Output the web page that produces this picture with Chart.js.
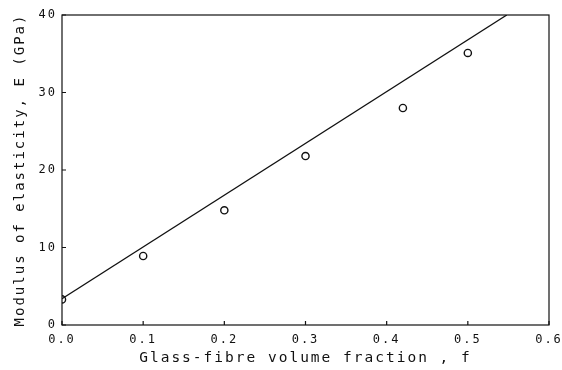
<!DOCTYPE html>
<html>
<head>
<meta charset="utf-8">
<script src="https://cdn.jsdelivr.net/npm/chart.js@4.4.0/dist/chart.umd.min.js"></script>
<style>
  html, body { margin: 0; padding: 0; background: #fff; }
  #wrap { width: 562px; height: 370px; }
</style>
</head>
<body>
<div id="wrap"><canvas id="modulusChart"></canvas></div>
<script>
// measured points: fibre volume fraction vs modulus (GPa)
const fraction = [0.0, 0.1, 0.2, 0.3, 0.42, 0.5];
const modulus = [3.3, 8.9, 14.8, 21.8, 28.0, 35.1];

// fitted straight line, end points
const fitFraction = [0.0, 0.548];
const fitModulus = [3.4, 40];

const xTicks = [0, 0.1, 0.2, 0.3, 0.4, 0.5, 0.6];
const yTicks = [0, 10, 20, 30, 40];

const ink = '#111';
const ctxModulus = document.getElementById('modulusChart');

// wide plotter-style lettering
const spacing = {
    id: 'spacing',
    beforeUpdate(chart) { chart.ctx.letterSpacing = '2px'; },
    beforeDraw(chart) { chart.ctx.letterSpacing = '2px'; }
};

// closed frame with short inward ticks
const frame = {
    id: 'frame',
    afterDatasetsDraw(chart) {
        const { ctx, chartArea: a, scales } = chart;
        ctx.save();
        ctx.strokeStyle = ink;
        ctx.lineWidth = 1.2;
        ctx.strokeRect(a.left, a.top, a.right - a.left, a.bottom - a.top);
        ctx.beginPath();
        xTicks.forEach(v => {
            const px = scales.x.getPixelForValue(v);
            ctx.moveTo(px, a.bottom);
            ctx.lineTo(px, a.bottom - 4);
        });
        yTicks.forEach(v => {
            const py = scales.y.getPixelForValue(v);
            ctx.moveTo(a.left, py);
            ctx.lineTo(a.left + 4, py);
        });
        ctx.stroke();
        ctx.restore();
    }
};

const dataModulus = {
    datasets: [{
        type: 'scatter',
        label: 'Measured',
        data: fraction.map((f, i) => ({ x: f, y: modulus[i] })),
        pointStyle: 'circle',
        pointRadius: 3.6,
        pointBorderWidth: 1.4,
        borderColor: ink,
        backgroundColor: 'rgba(255,255,255,0)'
    }, {
        type: 'line',
        label: 'Fit',
        data: fitFraction.map((f, i) => ({ x: f, y: fitModulus[i] })),
        borderColor: ink,
        borderWidth: 1.3,
        pointRadius: 0,
        fill: false
    }]
};

const configModulus = {
    data: dataModulus,
    plugins: [spacing, frame],
    options: {
        responsive: true,
        maintainAspectRatio: false,
        animation: false,
        layout: { padding: { top: 15, right: 13, left: 0, bottom: 0 } },
        plugins: {
            legend: { display: false },
            tooltip: { enabled: false }
        },
        scales: {
            x: {
                type: 'linear',
                min: 0,
                max: 0.6,
                afterBuildTicks: s => { s.ticks = xTicks.map(v => ({ value: v })); },
                grid: { display: false, drawTicks: false },
                border: { display: false },
                ticks: {
                    color: ink,
                    padding: 8,
                    maxRotation: 0,
                    font: { family: 'DejaVu Sans Mono', size: 12 },
                    callback: v => v.toFixed(1)
                },
                title: {
                    display: true,
                    text: 'Glass-fibre volume fraction , f',
                    color: ink,
                    padding: { top: 0, bottom: 3 },
                    font: { family: 'DejaVu Sans Mono', size: 14.5 }
                },
                afterFit: s => { s.height = 45; s.paddingRight = 0; s.paddingLeft = 0; }
            },
            y: {
                min: 0,
                max: 40,
                afterBuildTicks: s => { s.ticks = yTicks.map(v => ({ value: v })); },
                grid: { display: false, drawTicks: false },
                border: { display: false },
                ticks: {
                    color: ink,
                    padding: 5,
                    font: { family: 'DejaVu Sans Mono', size: 12 }
                },
                title: {
                    display: true,
                    text: 'Modulus of elasticity, E (GPa)',
                    color: ink,
                    padding: { top: 12, bottom: 4 },
                    font: { family: 'DejaVu Sans Mono', size: 14 }
                },
                afterFit: s => { s.width = 62; s.paddingTop = 0; s.paddingBottom = 0; }
            }
        }
    }
};

const chartModulus = new Chart(ctxModulus, configModulus);
</script>
</body>
</html>
